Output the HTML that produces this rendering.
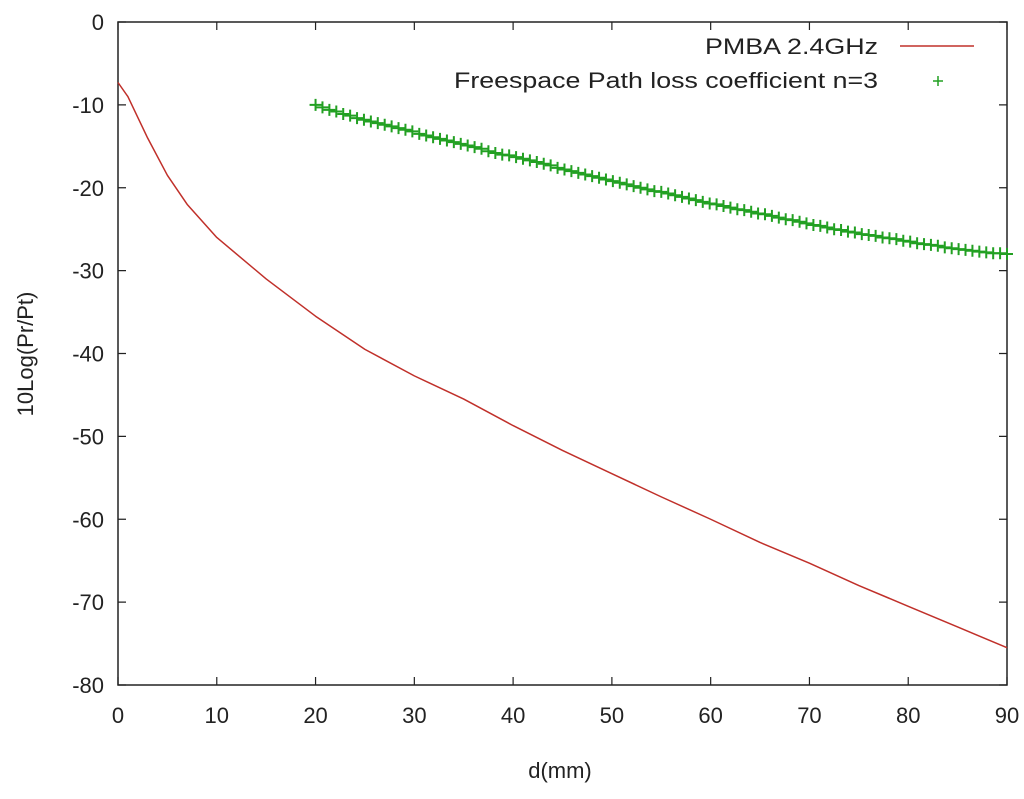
<!DOCTYPE html>
<html><head><meta charset="utf-8"><style>
body{margin:0;background:#fff;width:1024px;height:794px;overflow:hidden}
svg text{font-family:"Liberation Sans",sans-serif;fill:#222}
</style></head><body>
<svg id="chart" width="1024" height="794" xmlns="http://www.w3.org/2000/svg">
<g id="axes"></g>
<g id="series"></g>
<g id="legend">
<text x="705" y="54" font-size="22" textLength="173" lengthAdjust="spacingAndGlyphs">PMBA 2.4GHz</text>
<line x1="900" y1="46" x2="974" y2="46" stroke="#c0302a" stroke-width="1.5"/>
<text x="454" y="88" font-size="22" textLength="424" lengthAdjust="spacingAndGlyphs">Freespace Path loss coefficient n=3</text>
<path d="M933 81h10M938 76v10" stroke="#22a022" stroke-width="1.5"/>
</g>
<text x="560" y="778" font-size="22" text-anchor="middle">d(mm)</text>
<text transform="translate(33,354) rotate(-90)" font-size="22" text-anchor="middle">10Log(Pr/Pt)</text>
</svg>
<script>
const xTicks=[0,10,20,30,40,50,60,70,80,90];
const yTicks=[0,-10,-20,-30,-40,-50,-60,-70,-80];
const redX=[0,1,2,3,5,7,10,15,20,25,30,35,40,45,50,55,60,65,70,75,80,85,90];
const redY=[-7.3,-9,-11.5,-14,-18.5,-22,-26,-31,-35.5,-39.5,-42.7,-45.5,-48.7,-51.7,-54.5,-57.3,-60,-62.8,-65.3,-68,-70.5,-73,-75.5];
const greenStart=20;
const greenStep=0.7;
const greenY=[-10.0,-10.3,-10.6,-10.8,-11.1,-11.3,-11.6,-11.8,-12.0,-12.2,-12.4,-12.6,-12.8,-13.0,-13.2,-13.5,-13.7,-13.9,-14.1,-14.3,-14.5,-14.7,-14.9,-15.1,-15.3,-15.6,-15.8,-16.0,-16.1,-16.3,-16.5,-16.7,-16.9,-17.1,-17.3,-17.6,-17.8,-18.0,-18.2,-18.4,-18.6,-18.8,-19.0,-19.2,-19.4,-19.6,-19.8,-20.0,-20.2,-20.4,-20.5,-20.7,-20.9,-21.1,-21.3,-21.5,-21.7,-21.9,-22.0,-22.2,-22.4,-22.6,-22.7,-22.9,-23.1,-23.2,-23.4,-23.6,-23.8,-23.9,-24.1,-24.3,-24.5,-24.6,-24.8,-25.0,-25.1,-25.3,-25.4,-25.6,-25.7,-25.8,-26.0,-26.1,-26.2,-26.4,-26.5,-26.7,-26.8,-26.9,-27.0,-27.2,-27.3,-27.4,-27.5,-27.6,-27.7,-27.8,-27.9,-27.9,-28.0];
const L=118,R=1007,T=22,B=685;
const sx=v=>L+(v-0)/90*(R-L);
const sy=v=>T+(0-v)/80*(B-T);
const NS="http://www.w3.org/2000/svg";
function mk(tag,attrs,parent){const e=document.createElementNS(NS,tag);for(const k in attrs)e.setAttribute(k,attrs[k]);parent.appendChild(e);return e;}
const ax=document.getElementById('axes');
const frame=mk('rect',{x:L,y:T,width:R-L,height:B-T,fill:'none',stroke:'#222','stroke-width':1.5},ax);


xTicks.forEach(t=>{const x=sx(t);
 const a=mk('path',{d:`M${x} ${B}v-8M${x} ${T}v8`,stroke:'#222','stroke-width':1.2},ax);
 
 
 const tx=mk('text',{x:x,y:B+38,'font-size':22,'text-anchor':'middle'},ax);tx.textContent=t;
 
 });
yTicks.forEach(t=>{const y=sy(t);
 const a=mk('path',{d:`M${L} ${y}h8M${R} ${y}h-8`,stroke:'#222','stroke-width':1.2},ax);
 
 
 const tx=mk('text',{x:L-14,y:y+8,'font-size':22,'text-anchor':'end'},ax);tx.textContent=t;
 
 });
const sg=document.getElementById('series');
const red=mk('polyline',{points:redX.map((x,i)=>sx(x)+','+sy(redY[i])).join(' '),fill:'none',stroke:'#c0302a','stroke-width':1.5,'stroke-linejoin':'round'},sg);


greenY.forEach((v,i)=>{const x=sx(greenStart+i*greenStep),y=sy(v);
 const p=mk('path',{d:`M${x-6} ${y}h12M${x} ${y-6}v12`,stroke:'#22a022','stroke-width':2},sg);
 
 });
</script>
</body></html>
